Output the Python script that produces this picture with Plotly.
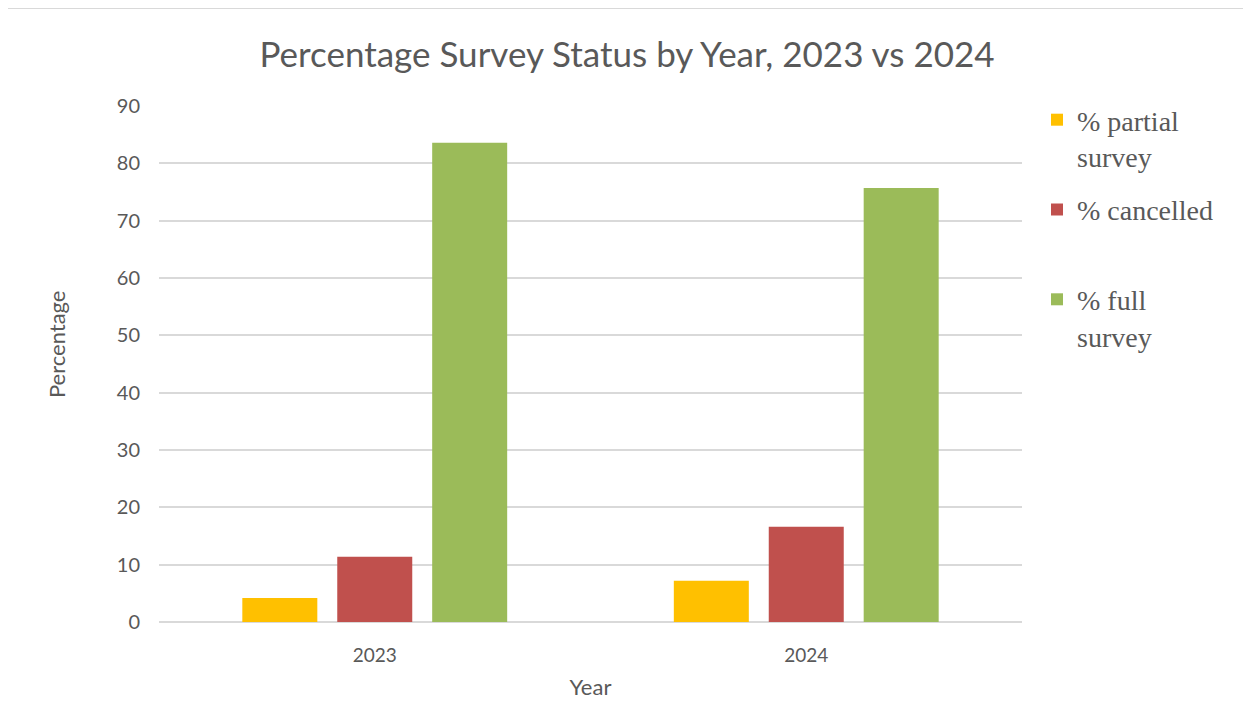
import plotly.graph_objects as go

years = ["2023", "2024"]
partial = [4.2, 7.2]
cancelled = [11.4, 16.6]
full = [83.6, 75.7]
series_names = ["% partial<br>survey", "% cancelled<br>&nbsp;", "% full<br>survey"]
colors = ["#FFC000", "#C0504D", "#9BBB59"]

W, H = 1243, 697
L, R, T, B = 151, 229, 98, 83
PW, PH = W - L - R, H - T - B

fig = go.Figure()
for i, (name, vals, c) in enumerate(zip(series_names, [partial, cancelled, full], colors)):
    fig.add_trace(go.Bar(x=years, y=vals, name=name, legendgroup=f"g{i}",
                         marker=dict(color=c, line=dict(width=0))))

grey = "#595959"
fig.update_layout(
    width=W, height=H,
    margin=dict(l=L, r=R, t=T, b=B, autoexpand=False),
    paper_bgcolor="white", plot_bgcolor="white",
    barmode="group", bargap=0.34, bargroupgap=0.21,
    title=dict(text="Percentage Survey Status by Year, 2023 vs 2024",
               font=dict(family="Lato", size=35, color=grey),
               x=619 / W, xanchor="center", y=1 - 47 / H, yanchor="middle"),
    font=dict(family="Lato", color=grey),
    legend=dict(x=(1029 - L) / PW, xanchor="left", y=1 + 11 / PH, yanchor="top",
                font=dict(family="Liberation Serif", size=28, color=grey),
                valign="top", traceorder="grouped", tracegroupgap=14,
                bgcolor="rgba(0,0,0,0)"),
    showlegend=True,
)
fig.update_xaxes(showgrid=False, showline=False, ticks="", tickfont=dict(size=19, color=grey),
                 ticklabelstandoff=20,
                 title=dict(text="Year", font=dict(size=22, color=grey), standoff=14))
fig.update_yaxes(range=[0, 90], dtick=10, showgrid=True, gridcolor="#d9d9d9", gridwidth=1.5,
                 zeroline=True, zerolinecolor="#d9d9d9", zerolinewidth=1.5,
                 showline=False, ticks="", tickfont=dict(size=20, color=grey),
                 ticklabelstandoff=18,
                 title=dict(text="&nbsp;&nbsp;&nbsp;&nbsp;&nbsp;&nbsp;&nbsp;Percentage",
                            font=dict(size=22, color=grey), standoff=45))
fig.add_shape(type="line", xref="paper", yref="paper",
              x0=(-2 - L) / PW, x1=(W - L) / PW,
              y0=(H - B - 0) / PH, y1=(H - B - 0) / PH,
              line=dict(color="#d9d9d9", width=2))
fig.write_html("out.html")
